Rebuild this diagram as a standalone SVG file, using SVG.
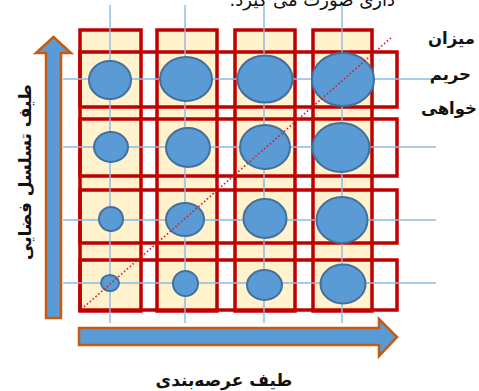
<svg xmlns="http://www.w3.org/2000/svg" width="479" height="391" viewBox="0 0 479 391">
<style>
.col{fill:#FFF2CC;stroke:#C00000;stroke-width:3.5}
.row{fill:none;stroke:#C00000;stroke-width:3.5}
.grid{stroke:#8DB8E2;stroke-width:1.4;fill:none}
.dot{fill:#5B9BD5;stroke:#41719C;stroke-width:2}
.arrow{fill:#5B9BD5;stroke:#C55A11;stroke-width:2.5;stroke-linejoin:miter}
.diag{stroke:#D0202A;stroke-width:1.6;stroke-dasharray:1.6 2.2;fill:none}
.lbl{font-family:"DejaVu Sans","Noto Sans",sans-serif;font-weight:bold;fill:#111}
</style>
<rect width="479" height="391" fill="#fff"/>
<text x="395" y="6" direction="rtl" text-anchor="start" style="font-family:'DejaVu Sans','Noto Sans',sans-serif;font-size:18px;fill:#111">داری صورت می گیرد.</text>
<g id="columns">
<rect class="col" x="80" y="30" width="61" height="281"/>
<rect class="col" x="157" y="30" width="60" height="281"/>
<rect class="col" x="235" y="30" width="60" height="281"/>
<rect class="col" x="313" y="30" width="59" height="281"/>
</g>
<g id="rows">
<rect class="row" x="80" y="52" width="317" height="55"/>
<rect class="row" x="80" y="119" width="317" height="57"/>
<rect class="row" x="80" y="190" width="317" height="53"/>
<rect class="row" x="80" y="260" width="317" height="50"/>
</g>
<g id="connectors">
<line class="grid" x1="110" y1="5" x2="110" y2="323"/>
<line class="grid" x1="185" y1="5" x2="185" y2="323"/>
<line class="grid" x1="264" y1="5" x2="264" y2="323"/>
<line class="grid" x1="342" y1="5" x2="342" y2="323"/>
<line class="grid" x1="63" y1="79" x2="436" y2="79"/>
<line class="grid" x1="63" y1="147" x2="436" y2="147"/>
<line class="grid" x1="63" y1="220" x2="436" y2="220"/>
<line class="grid" x1="63" y1="283" x2="436" y2="283"/>
</g>
<g id="circles">
<ellipse class="dot" cx="110" cy="80" rx="21" ry="19"/>
<ellipse class="dot" cx="186" cy="79" rx="26" ry="22"/>
<ellipse class="dot" cx="265" cy="79" rx="27.5" ry="23.5"/>
<ellipse class="dot" cx="343" cy="79.5" rx="31" ry="26.5"/>
<ellipse class="dot" cx="111" cy="147" rx="17" ry="15"/>
<ellipse class="dot" cx="188" cy="147.5" rx="22" ry="19.5"/>
<ellipse class="dot" cx="265" cy="147" rx="25" ry="22"/>
<ellipse class="dot" cx="341" cy="147.5" rx="28.5" ry="24.5"/>
<ellipse class="dot" cx="111" cy="219" rx="12" ry="12"/>
<ellipse class="dot" cx="185" cy="219.5" rx="19" ry="16.5"/>
<ellipse class="dot" cx="265" cy="218.5" rx="21.5" ry="19.5"/>
<ellipse class="dot" cx="342" cy="220" rx="25.5" ry="23"/>
<ellipse class="dot" cx="110" cy="283" rx="9" ry="8"/>
<ellipse class="dot" cx="185.5" cy="283.5" rx="12.5" ry="12.5"/>
<ellipse class="dot" cx="264.5" cy="285" rx="17.5" ry="15"/>
<ellipse class="dot" cx="343" cy="284" rx="22.5" ry="19.5"/>
</g>
<line class="diag" x1="84" y1="307" x2="392" y2="37"/>
<g id="arrow-vertical">
<path class="arrow" d="M46,318 L46,53 L36,53 L53.5,37 L71,53 L61,53 L61,318 Z"/>
</g>
<g id="arrow-horizontal">
<path class="arrow" d="M79,328 L379,328 L379,319 L397,337 L379,356 L379,345 L79,345 Z"/>
</g>
<g id="label-right">
<text class="lbl" x="475" y="44" text-anchor="end" font-size="16.5">میزان</text>
<text class="lbl" x="471" y="80" text-anchor="end" font-size="16.5">حریم</text>
<text class="lbl" x="477" y="114" text-anchor="end" font-size="16.5">خواهی</text>
</g>
<g id="label-left">
<text class="lbl" transform="translate(31,172) rotate(-90)" text-anchor="middle" font-size="17">طیف تسلسل فضایی</text>
</g>
<g id="label-bottom">
<text class="lbl" x="224" y="386" text-anchor="middle" font-size="17">طیف عرصه‌بندی</text>
</g>
</svg>
